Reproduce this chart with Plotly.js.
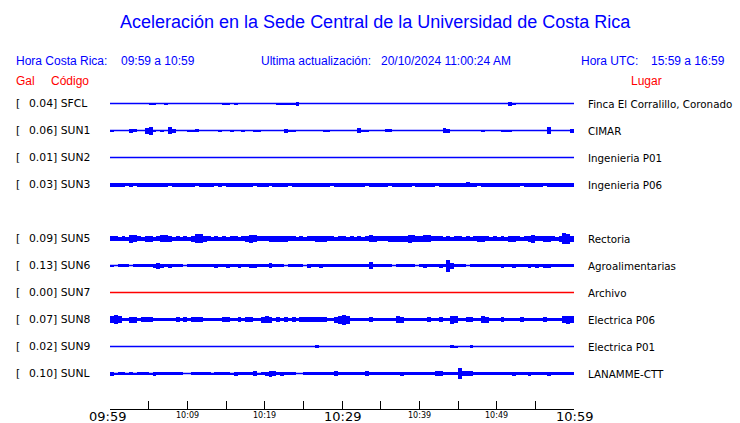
<!DOCTYPE html>
<html>
<head>
<meta charset="utf-8">
<script src="https://cdn.plot.ly/plotly-3.0.1.min.js"></script>
<style>html,body{margin:0;padding:0;background:#fff;}#chart{width:740px;height:423px;}</style>
</head>
<body>
<div id="chart"></div>
<script>
// ---- data ----
const codes  = ['SFCL','SUN1','SUN2','SUN3','SUN5','SUN6','SUN7','SUN8','SUN9','SUNL'];
const gal    = ['0.04','0.06','0.01','0.03','0.09','0.13','0.00','0.07','0.02','0.10'];
const places = ['Finca El Corralillo, Coronado','CIMAR','Ingenieria P01','Ingenieria P06','Rectoria','Agroalimentarias','Archivo','Electrica P06','Electrica P01','LANAMME-CTT'];
const traceColors = ['blue','blue','blue','blue','blue','blue','red','blue','blue','blue'];
const tickLabels = ['09:59','10:09','10:19','10:29','10:39','10:49','10:59'];
const bigTickLabels = ['09:59','10:29','10:59'];

// half-amplitude envelope per 30 s bin (09:59 -> 10:59), read from the display
const SFCL = [0,0,0,0,0,0,0,0,0,0, 1,1,0,0,1,0,0,0,0,0, 0,0,0,0,0,0,0,0,0,1, 1,0,1,0,0,0,0,0,0,0,
  0,0,0,1,1,1,1,1,2,0, 0,0,0,0,0,0,0,0,0,0, 0,0,0,0,0,0,0,0,0,0, 0,0,0,0,0,0,0,0,0,0,
  0,0,0,0,0,0,0,0,0,0, 0,0,0,0,0,0,0,0,0,0, 0,0,0,2,1,0,0,0,0,0, 0,0,0,0,0,0,0,0,0,0];
const SUN1 = [1,0,0,0,0,2,1.5,0,0.7,3, 4,1,0,1,0,3.5,2,0,0,0, 1,1,1.5,0,0,0,0,0,1,0, 0,1,0,0,1,0,0,1,1,0,
  0,0,0,0,0,2,1,1,0,0.7, 0,0,0,0,0,1,1,0.7,0,0.7, 0.7,0.7,0.7,0,2.5,1,1,0,0,0.7, 0.7,1.5,1.5,0,0,0.7,0,0.7,0.7,0,
  0.7,0,0,0.7,0.7,0,2.5,2,0,0, 0.7,0,0,0.7,0.7,0,1,0,0,0, 0.7,1,1,1,0,0,0,0,0,0, 0.7,0.7,0,3.5,0.7,0.7,0.7,0.7,0.7,2];
const SUN2 = [0,0,0,0,0,0,0,0,0,0, 0,0,0,0,0,0,0,0,0,0, 0,0,0,0,0,0,0,0,0,0, 0,0,0,0,0,0,0,0,0,0,
  0,0,0,0,0,0,0,0,0,0, 0,0,0,0,0,0,0,0,0,0, 0,0,0,0,0,0,0,0,0,0, 0,0,0,0,0,0,0,0,0,0,
  0,0,0,0,0,0,0,0,0,0, 0,0,0,0,0,0,0,0,0,0, 0,0,0,0,0,0,0,0,0,0, 0,0,0,0,0,0,0.7,0,0,0];
const SUN3 = [2,2,2,2,1.5,2,1.5,2,2,2, 2,2,2,2,2,1.5,2,2,2,2, 2,2,1.5,2,2,2,2,1.5,2,1.5, 2,2,2,2,2,2,2,1.5,2,2,
  2,1.5,2,2,2,2,1.5,2,2,2, 2,2,2,2,2,2,2,1.5,2,2, 2,2,2,2,2,2,1.5,2,2,2, 2,2,1.5,2,2,2,2,2,1.5,2,
  2,2,2,2,1.5,2,2,2,2,2, 2,2,2.5,2,2,1.5,2,2,2,2, 2,2,2,2,2,2,1.5,2,2,2, 2,2,1.5,2,2,2,2,2,2,2];
const SUN5 = [2.5,2.5,2,2.5,2,4,3.5,2.5,2,3, 3,2,2.5,3.5,3.5,3,2,2.5,2,2.5, 2,3,4.5,4.5,3,2.5,2,2.5,2,2.5, 2,2.5,2.5,2,2.5,3,4,3.5,2.5,2.5,
  2.5,3,3,3,3,3,2.5,2.5,2,2.5, 2,2.5,2.5,3,3,3,2.5,2.5,2,2.5, 2.5,2,2.5,2,2.5,2,2.5,3.5,3,2.5, 2.5,2.5,3,3,3,3,3,4,3.5,3,
  3,3.5,3.5,2.5,2.5,2.5,2,2.5,2,2.5, 2.5,2,2.5,2,2.5,3,3,2.5,2,2.5, 2,2.5,2,3,3,2.5,2,2.5,3,4, 2.5,2.5,3,3,2.5,2,3,5.5,5,3];
const SUN6 = [1,0.7,1.5,1.5,1.5,0.7,1.5,1.5,1.5,1.5, 1.5,2,3,2,1.5,2,1.5,1.5,1.5,0.7, 1.5,1.5,1.5,1.5,1.5,1.5,1.5,2,1.5,1.5, 2,1.5,1.5,2,1.5,1.5,2,2,1.5,1.5,
  1.5,2.5,1.5,1.5,1.5,0.7,1.5,1.5,1.5,1.5, 0.7,2,1.5,1.5,2,1.5,1.5,1.5,1.5,1.5, 1.5,1.5,1.5,1.5,1.5,1.5,1.5,3.5,1.5,1.5, 1.5,1.5,1.5,0.7,1.5,1.5,1.5,1.5,1.5,0.7,
  1.5,2,1.5,1.5,1.5,2,1.5,6,3,1.5, 1.5,1.5,0.7,1.5,1.5,1.5,1.5,1.5,1.5,1.5, 1.5,2,1.5,1.5,2,1.5,1.5,1.5,2,1.5, 2,1.5,2,2,1.5,1.5,1.5,1.5,1.5,1.5];
const SUN7 = [0,0,0,0,0,0,0,0,0,0, 0,0,0,0,0,0,0,0,0,0, 0,0,0,0,0,0,0,0,0,0, 0,0,0,0,0,0,0,0,0,0,
  0,0,0,0,0,0,0,0,0,0, 0,0,0,0,0,0,0,0,0,0, 0,0,0,0,0,0,0,0,0,0, 0,0,0,0,0,0,0,0,0,0,
  0,0,0,0,0,0,0,0,0,0, 0,0,0,0,0,0,0,0,0,0, 0,0,0,0,0,0,0,0,0,0, 0,0,0,0,0,0,0,0,0,0];
const SUN8 = [3.5,4.5,3.5,1.8,1.8,3,3,1.8,2.5,2.5, 2.5,1.8,1.8,1.8,1.8,1.8,1.8,2.5,1.8,2.5, 1.8,2.5,2.5,2.5,1.2,1.2,1.2,1.2,1.8,2.5, 2.5,1.8,1.8,2.5,1.2,2.5,2.5,1.8,1.8,3,
  3.5,3,1.8,2.5,1.8,2.5,1.2,2.5,1.2,2.5, 2.5,2.5,2.5,2.5,2.5,2.5,1.8,1.8,3,4, 5,4,1.8,1.8,1.8,1.8,1.8,2.5,1.8,1.8, 1.8,1.8,1.8,1.8,3.5,3,1.8,1.8,1.8,1.8,
  1.8,1.8,2.5,1.8,1.8,2.5,1.8,1.8,4,3.5, 1.8,1.8,2.5,2.5,1.8,1.8,3.5,3,1.8,1.8, 1.8,2.5,1.8,1.8,1.8,1.8,2.5,1.8,1.8,1.8, 1.8,1.8,2.5,1.8,1.8,1.8,1.8,3.5,4,3.5];
const SUN9 = [0,0,0,0,0,0,0.7,0,0,0, 0,0,0,0,0,0,0,0,0,0, 0,0,0,0,0,0,0,0,0,0, 0,0,0,0,0,0,0,0,0,0,
  0,0,0,0,0,0,0,0.7,0,0, 0,0,0,1.2,0,0,0,0,0,0.7, 0,0,0,0,0,0.7,0,0,0,0, 0,0.7,0,0,0,0.7,0,0,0,0,
  0,0,0,0,0,0,0,0,1.5,1, 0,0,0,1.2,0,0,0,0,0,0, 0,0,0,0,0,0,0,0,0,0, 0,0.7,0,0,0,0.7,0,0.7,0,0];
const SUNL = [2,1,1.6,1.6,1,1.6,1,1.6,1.6,1.6, 1,2,1.6,1.6,1.6,1.6,1.6,1.6,1.6,0.7, 0.7,1.6,1.6,1.6,1.6,1.6,1,1.6,1.6,1.6, 1.6,1,2,1.6,1.6,1.6,1.6,2.5,1,1.6,
  2,3,2.5,1.6,2,1.6,1.6,1.6,0.7,0.7, 1.6,1.6,1.6,1.6,1.6,1.6,1.6,1.6,2.5,1.6, 1.6,1.6,1.6,1.6,1.6,1.6,2.5,1.6,1.6,1.6, 1.6,1.6,1.6,1.6,1.6,2,1.6,1.6,1.6,1.6,
  1.6,1.6,1.6,1.6,2.5,2.5,1.6,1.6,1.6,1.6, 5.5,2.5,2.5,2.5,1.6,1.6,1.6,1.6,1.6,1.6, 1.6,1.6,1.6,1.6,2,1.6,1.6,1.6,2,1.6, 1.6,1.6,1.6,2,1.6,1.6,1.6,1.6,1.6,1.6];
const envelopes = [SFCL,SUN1,SUN2,SUN3,SUN5,SUN6,SUN7,SUN8,SUN9,SUNL];

// ---- layout geometry (pixels) ----
const W = 740, H = 423;
const L = 110, R = 574, T = 90, B = 409;
const firstRowY = 103.5, rowStep = 27;
const missingAfter = 'SUN3'; // SUN4 slot is empty
const binMin = 0.5;           // 30 s bins
const totalMin = 60;

function slotOf(i){ return i + (i > codes.indexOf(missingAfter) ? 1 : 0); }
function centerY(i){ return firstRowY + rowStep*slotOf(i); }
const px = x => (x - L)/(R - L);
const py = y => (B - y)/(B - T);

const traces = [];
envelopes.forEach((env, i) => {
  const c = centerY(i);
  const xs = env.map((_, k) => binMin*k + binMin/2);
  traces.push({
    type:'bar', x: xs, y: env.map(a => 2*a), base: env.map(a => c - a),
    width: binMin, marker:{color: traceColors[i], line:{width:0}},
    hoverinfo:'skip', showlegend:false
  });
  traces.push({
    type:'scatter', mode:'lines', x:[0,totalMin], y:[c,c],
    line:{color: traceColors[i], width:1.3}, hoverinfo:'skip', showlegend:false
  });
});

const ann = [];
function addText(x, y, text, opts){
  ann.push(Object.assign({xref:'paper', yref:'paper', x:px(x), y:py(y), text:text,
    showarrow:false, xanchor:'left', yanchor:'middle', borderpad:0,
    font:{family:'Liberation Sans, Arial, sans-serif', size:12, color:'blue'}}, opts||{}));
}
// title
addText(375, 22, 'Aceleración en la Sede Central de la Universidad de Costa Rica', {xanchor:'center', font:{family:'Liberation Sans, Arial, sans-serif', size:18, color:'blue'}});
// header
addText(15, 61, 'Hora Costa Rica:');
addText(120, 61, '09:59 a 10:59');
addText(260, 61, 'Ultima actualización:');
addText(380, 61, '20/10/2024 11:00:24 AM');
addText(580, 61, 'Hora UTC:');
addText(650, 61, '15:59 a 16:59');
const red = {family:'Liberation Sans, Arial, sans-serif', size:12, color:'red'};
addText(15, 81, 'Gal', {font:red});
addText(50, 81, 'Código', {font:red});
addText(630, 81, 'Lugar', {font:red});
// station labels
const lab = {family:'DejaVu Sans, sans-serif', size:10.8, color:'black'};
const plab = {family:'DejaVu Sans, sans-serif', size:10.3, color:'black'};
codes.forEach((code, i) => {
  const c = centerY(i);
  addText(15, c, '[', {font:lab});
  addText(27.5, c, gal[i] + '] ' + code, {font:lab});
  addText(587, c, places[i], {font:plab});
});
// time tick labels
tickLabels.forEach((t, k) => {
  const big = bigTickLabels.includes(t);
  ann.push({xref:'x', yref:'paper', x:k*10, y:py(big ? 416.5 : 415.5), text:t, showarrow:false,
    xanchor:'center', yanchor:'middle', borderpad:0, xshift: k === 0 ? -3 : 0,
    font:{family:'DejaVu Sans, sans-serif', size: big ? 13 : 8, color:'black'}});
});

const tickVals = [];
for (let v = 0; v <= totalMin; v += 5) tickVals.push(v);

const layout = {
  width:W, height:H, margin:{l:L, r:W-R, t:T, b:H-B, pad:0},
  paper_bgcolor:'white', plot_bgcolor:'white',
  barmode:'overlay', bargap:0,
  xaxis:{range:[0,totalMin], showgrid:false, zeroline:false, showline:true, linecolor:'black', linewidth:1,
    ticks:'inside', ticklen:8, tickwidth:1, tickcolor:'black', tickvals:tickVals, showticklabels:false, fixedrange:true},
  yaxis:{range:[B, T], visible:false, showgrid:false, zeroline:false, fixedrange:true},
  annotations: ann,
  showlegend:false
};
Plotly.newPlot('chart', traces, layout, {displayModeBar:false, staticPlot:true});
</script>
</body>
</html>
